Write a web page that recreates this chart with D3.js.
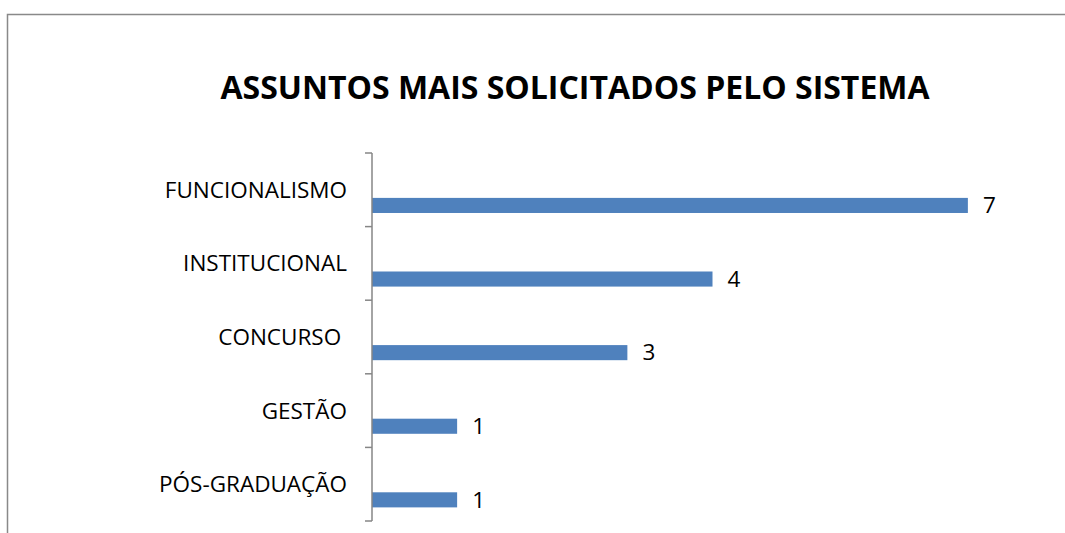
<!DOCTYPE html>
<html><head><meta charset="utf-8">
<script src="https://cdn.jsdelivr.net/npm/d3@7"></script>
<style>
html,body{margin:0;padding:0;background:#fff;}
svg text{font-family:"Open Sans",sans-serif;white-space:pre;}
</style></head>
<body><svg id="c" width="1065" height="533"></svg>
<script>
const title = "ASSUNTOS MAIS SOLICITADOS PELO SISTEMA";
const categories = ["FUNCIONALISMO","INSTITUCIONAL","CONCURSO ","GESTÃO","PÓS-GRADUAÇÃO"];
const values = [7,4,3,1,1];
const xDomain = [0,8];

const svg = d3.select("#c");

// outer frame
svg.append("path").attr("d","M7.5,533 V14.5 H1065").attr("fill","none").attr("stroke","#898989").attr("stroke-width",1.5);

// title
svg.append("text").attr("x",575).attr("y",99)
  .attr("text-anchor","middle").attr("font-weight","bold").attr("font-size",32).attr("fill","#000").text(title);

const x = d3.scaleLinear().domain(xDomain).range([372,1053]);
const y = d3.scaleBand().domain(categories).range([153,521]);
const bw = y.bandwidth();

// bars
svg.selectAll("rect.bar").data(categories).join("rect")
  .attr("x",x(0)).attr("y",d=>y(d)+bw*0.61).attr("height",bw*0.205)
  .attr("width",(d,i)=>x(values[i])-x(0)).attr("fill","#4F81BD");

// axis
const ax = svg.append("g").attr("transform","translate(372,0)");
ax.append("line").attr("x1",0).attr("x2",0).attr("y1",153).attr("y2",521).attr("stroke","#868686").attr("stroke-width",1.5);
const ticks = categories.map(c=>y(c)).concat([y.range()[1]]);
ax.selectAll("line.t").data(ticks).join("line").attr("class","t")
  .attr("x1",-7).attr("x2",0).attr("y1",d=>d).attr("y2",d=>d).attr("stroke","#868686").attr("stroke-width",1.5);

// category labels
svg.selectAll("text.cat").data(categories).join("text").attr("class","cat")
  .attr("x",347).attr("y",d=>y(d)+bw/2+8)
  .attr("text-anchor","end").attr("font-size",22.5).attr("fill","#000").text(d=>d);

// value labels
svg.selectAll("text.val").data(categories).join("text").attr("class","val")
  .attr("x",(d,i)=>x(values[i])+15).attr("y",d=>y(d)+bw*0.61+bw*0.1+8)
  .attr("font-size",22.5).attr("fill","#000").text((d,i)=>values[i]);
</script></body></html>
